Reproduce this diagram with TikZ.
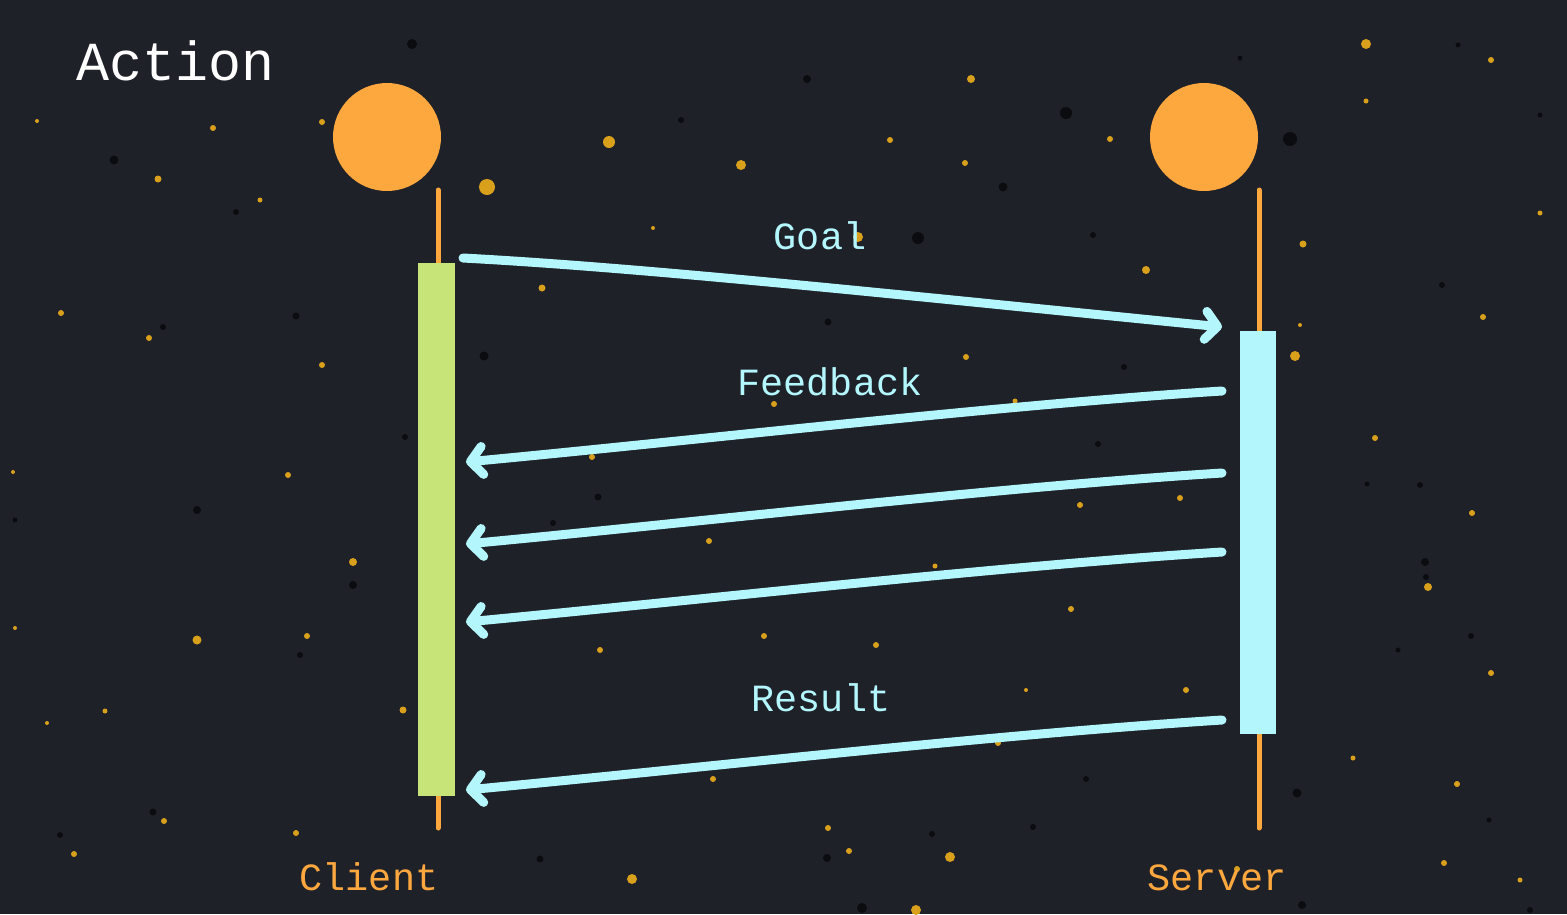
\documentclass[tikz,border=0pt]{standalone}
\usepackage{fontspec}
\setmonofont{Liberation Mono}
\usetikzlibrary{arrows.meta}
\definecolor{bgc}{HTML}{1F2129}
\definecolor{orng}{HTML}{FDA73F}
\definecolor{lime}{HTML}{C6E477}
\definecolor{cyanl}{HTML}{B3F6FB}
\definecolor{gold}{HTML}{D9A01C}
\definecolor{speck}{HTML}{0B0C10}
\tikzset{
  actor/.style={circle, fill=orng, minimum size=108pt, inner sep=0pt},
  life/.style={draw=orng, line width=5pt, line cap=round},
  actbox/.style={rectangle, inner sep=0pt, minimum width=37pt},
  msg/.style={draw=cyanl, line width=9pt, line cap=round,
    -{Straight Barb[length=12pt,width=28pt,line cap=round,line join=round]}},
  lbl/.style={font=\ttfamily\fontsize{38.5}{40}\selectfont, text=cyanl, anchor=base, inner sep=0pt},
  who/.style={font=\ttfamily\fontsize{38.5}{40}\selectfont, text=orng, anchor=base, inner sep=0pt},
  ttl/.style={font=\ttfamily\fontsize{55}{57}\selectfont, text=white, anchor=base west, inner sep=0pt},
  ydot/.style={fill=gold},
  kdot/.style={fill=speck}
}
\begin{document}
\begin{tikzpicture}[x=1pt,y=-1pt]
\fill[bgc] (0,0) rectangle (1567,914);
\useasboundingbox (0,0) rectangle (1567,914);
% speckles
\foreach \x/\y/\r in {487/187/8,609/142/6,741/165/5,971/79/4,1366/44/5,1491/60/3,1146/270/4,1303/244/3.5,
  1295/356/5,1375/438/3,1428/587/4,1472/513/3,1491/673/3,1483/317/3,1540/213/2.5,1366/101/2.5,1110/139/3,
  890/140/3,965/163/3,858/237/5,542/288/3.5,158/179/3.5,213/128/3,322/122/3,37/121/2,149/338/3,61/313/3,
  322/365/3,288/475/3,353/562/4,197/640/4.5,307/636/3,15/628/2,403/710/3.5,74/854/3,296/833/3,632/879/5,
  950/857/5,916/910/5,1237/869/3,1444/863/3,828/828/3,849/851/3,713/779/3,998/743/3,1186/690/3,
  1071/609/3,1180/498/3,1080/505/3,935/566/2.5,774/404/3,592/457/3,709/541/3,600/650/3,764/636/3,
  876/645/3,966/357/3,1015/401/2.5,1353/758/2.5,1457/784/3,1520/880/2.5,164/821/3,105/711/2.5,
  47/723/2,13/472/2,1180/137/2,1300/325/2,260/200/2.5,653/228/2,1026/690/2}
  \fill[ydot] (\x,\y) circle (\r pt);
\foreach \x/\y/\r in {412/44/5,114/160/4.5,807/79/4,1066/113/6,1290/139/7,1003/187/4.5,918/238/6,
  236/212/3,296/316/3.5,163/327/3,484/356/4.5,828/322/3.5,1093/235/3,1442/285/3,598/497/3.5,
  553/523/3,1425/562/4,1426/577/3,1471/636/3,1297/793/4.5,153/812/3.5,1086/779/3,1033/827/3,
  540/859/3.5,862/908/5,932/834/3,827/858/4,1420/485/3,197/510/4,300/655/3,353/585/4,405/437/3,
  1098/444/3,1124/367/3,1367/484/2.5,1530/910/3,1302/905/4,1489/820/2.5,1458/45/2.5,681/120/3,
  1540/115/2.5,60/835/3,15/520/2.5,1398/650/2.5,1240/58/2.5}
  \fill[kdot] (\x,\y) circle (\r pt);
% title
\node[ttl] (title) at (76,80) {Action};
% actors
\node[actor] (cli) at (387,137) {};
\node[actor] (srv) at (1204,137) {};
% lifelines
\coordinate (cl1) at (438,190);
\coordinate (cl2) at (438,828);
\coordinate (sl1) at (1259,190);
\coordinate (sl2) at (1259,828);
\draw[life] (cl1) -- (cl2);
\draw[life] (sl1) -- (sl2);
% activations
\node[actbox, fill=lime, minimum height=533pt] (cact) at (436.5,529.5) {};
\node[actbox, fill=cyanl, minimum width=36pt, minimum height=403pt] (sact) at (1258,532.5) {};
% message endpoints
\coordinate (g1) at (463,258);
\coordinate (g2) at (1222,327);
\coordinate (f1a) at (1222,391);
\coordinate (f1b) at (466,462);
\coordinate (f2a) at (1222,473);
\coordinate (f2b) at (466,544);
\coordinate (f3a) at (1222,552);
\coordinate (f3b) at (466,622);
\coordinate (r1) at (1222,720);
\coordinate (r2) at (466,790);
\draw[msg] (g1) .. controls (650,268) and (900,295) .. (g2);
\draw[msg] (f1a) .. controls (1000,405) and (700,440) .. (f1b);
\draw[msg] (f2a) .. controls (1000,487) and (700,522) .. (f2b);
\draw[msg] (f3a) .. controls (1000,566) and (700,600) .. (f3b);
\draw[msg] (r1) .. controls (1000,734) and (700,768) .. (r2);
% labels
\node[lbl] (goal) at (820,249) {Goal};
\node[lbl] (fb) at (830,395) {Feedback};
\node[lbl] (res) at (821,711) {Result};
\node[who] (client) at (369,890) {Client};
\node[who] (server) at (1217,890) {Server};
\end{tikzpicture}
\end{document}
